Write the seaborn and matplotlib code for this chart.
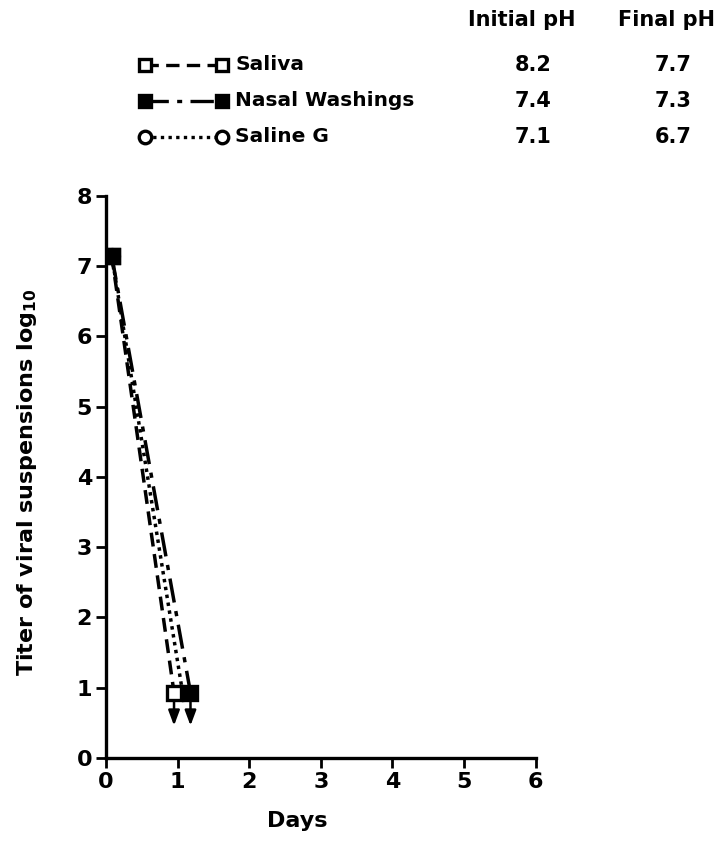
import matplotlib
matplotlib.use("Agg")
import matplotlib.pyplot as plt
from matplotlib.lines import Line2D
import numpy as np
import pandas as pd
import seaborn as sns

sns.set_theme(style="ticks")
plt.rcParams["font.family"] = ["DejaVu Sans"]
plt.rcParams["font.weight"] = "bold"
plt.rcParams["text.color"] = "black"
plt.rcParams["axes.labelcolor"] = "black"

# Data: virus titer (log10) over time in three suspending media
series = ["Saliva", "Nasal Washings", "Saline G"]
days_saliva = [0.08, 0.95]
titer_saliva = [7.15, 0.93]
days_nasal = [0.08, 1.18]
titer_nasal = [7.15, 0.93]
days_saline = [0.08, 1.07]
titer_saline = [7.15, 0.93]
initial_ph = ["8.2", "7.4", "7.1"]
final_ph = ["7.7", "7.3", "6.7"]
# series whose last point is below the detection limit
below_limit = ["Saliva", "Nasal Washings"]

df = pd.concat([
    pd.DataFrame({"Days": days_saliva, "Titer": titer_saliva, "Medium": "Saliva"}),
    pd.DataFrame({"Days": days_nasal, "Titer": titer_nasal, "Medium": "Nasal Washings"}),
    pd.DataFrame({"Days": days_saline, "Titer": titer_saline, "Medium": "Saline G"}),
])

styles = {
    "Saliva": dict(ls=(0, (4, 2.2)), marker="s", mfc="white"),
    "Nasal Washings": dict(ls=(0, (7, 2.5, 1.5, 2.5)), marker="s", mfc="black"),
    "Saline G": dict(ls=(0, (1, 1.3)), marker="o", mfc="white"),
}

fig = plt.figure(figsize=(7.21, 8.58), dpi=100)
ax = fig.add_axes([0.147, 0.1166, 0.596, 0.655])

for name in ["Saline G", "Saliva", "Nasal Washings"]:
    st = styles[name]
    sub = df[df["Medium"] == name]
    sns.lineplot(data=sub, x="Days", y="Titer", ax=ax, color="black",
                 linewidth=2.5, linestyle=st["ls"], marker=st["marker"],
                 markersize=10, markerfacecolor=st["mfc"],
                 markeredgecolor="black", markeredgewidth=2.4, legend=False)

# arrows marking titers below the limit of detection
for name in below_limit:
    sub = df[df["Medium"] == name]
    x_end = sub["Days"].iloc[-1]
    y_end = sub["Titer"].iloc[-1]
    ax.annotate("", xy=(x_end, y_end - 0.47), xytext=(x_end, y_end - 0.12),
                arrowprops=dict(arrowstyle="-|>,head_length=0.75,head_width=0.28",
                                color="black", lw=1.8, shrinkA=0, shrinkB=0))

ax.set_xlim(0, 6)
ax.set_ylim(0, 8)
ax.set_xticks(range(0, 7))
ax.set_yticks(range(0, 9))
ax.tick_params(axis="both", labelsize=16, width=2, length=7, direction="out",
               color="black", labelcolor="black", pad=3)
for lab in ax.get_xticklabels() + ax.get_yticklabels():
    lab.set_fontweight("bold")
sns.despine(ax=ax)
for sp in ["left", "bottom"]:
    ax.spines[sp].set_linewidth(2.4)
    ax.spines[sp].set_color("black")
ax.set_xlabel("Days", fontsize=16, fontweight="bold", color="black")
ax.set_ylabel("Titer of viral suspensions log$_{10}$", fontsize=16,
              fontweight="bold", color="black")
ax.xaxis.set_label_coords(0.444, -0.095)
ax.yaxis.set_label_coords(-0.155, 0.49)
ax.grid(False)

# key with pH table at the top
W, H = 721, 858
def fx(px): return px / W
def fy(py): return 1 - py / H

fig.text(fx(522), fy(20), "Initial pH", fontsize=15, fontweight="bold", va="center", ha="center")
fig.text(fx(666), fy(20), "Final pH", fontsize=15, fontweight="bold", va="center", ha="center")
rows_y = [65, 101, 137]
for name, y, ip, fp in zip(series, rows_y, initial_ph, final_ph):
    st = styles[name]
    fig.add_artist(Line2D([fx(145), fx(222)], [fy(y), fy(y)], color="black",
                          lw=2.4, ls=st["ls"], transform=fig.transFigure))
    fig.add_artist(Line2D([fx(145), fx(222)], [fy(y), fy(y)], color="black", lw=0,
                          marker=st["marker"], markersize=9, markerfacecolor=st["mfc"],
                          markeredgecolor="black", markeredgewidth=2.4,
                          transform=fig.transFigure))
    fig.text(fx(235), fy(y), name, fontsize=14.5, fontweight="bold", va="center", ha="left")
    fig.text(fx(533), fy(y), ip, fontsize=15, fontweight="bold", va="center", ha="center")
    fig.text(fx(673), fy(y), fp, fontsize=15, fontweight="bold", va="center", ha="center")

fig.savefig("out.png", dpi=100, facecolor="white")
